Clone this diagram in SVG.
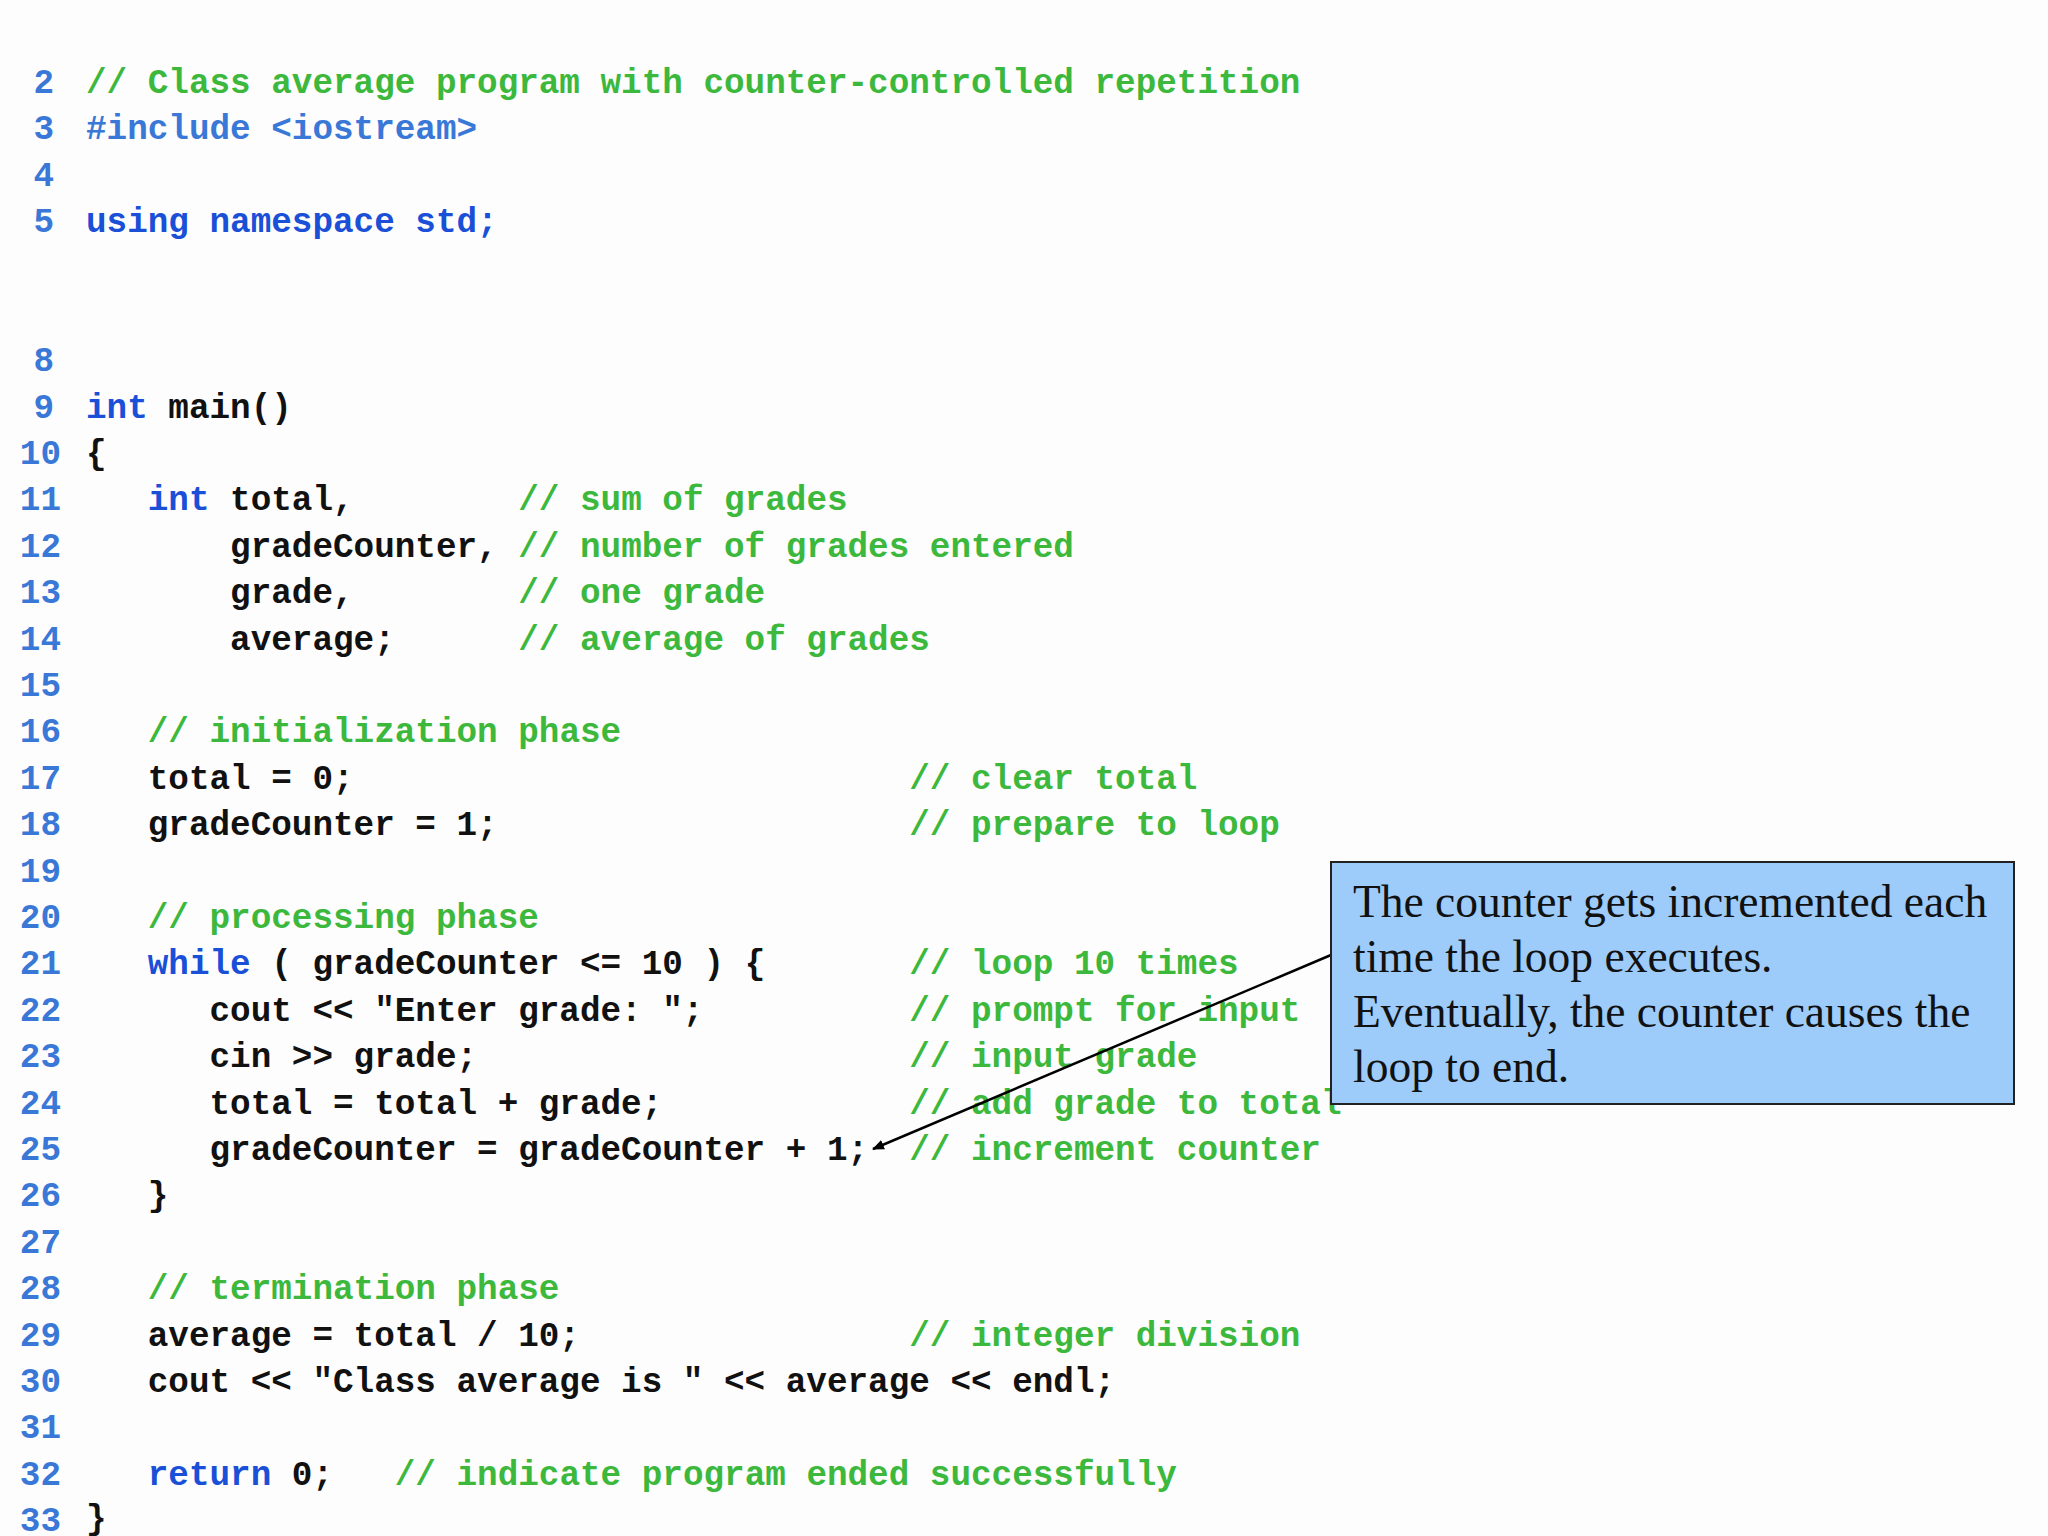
<svg xmlns="http://www.w3.org/2000/svg" width="2048" height="1536" viewBox="0 0 2048 1536">
<style>
.code{font-family:"Liberation Mono","Courier New",monospace;font-weight:bold;font-size:34.3px;fill:#111;white-space:pre}
.n{fill:#3a78d8;text-anchor:end}
.k{fill:#1a4fd8}
.c{fill:#3cb83c}
.p{fill:#3a78d8}
.t{font-family:"Liberation Serif","Times New Roman",serif;font-size:45.5px;fill:#111}
</style>
<defs><marker id="ah" markerWidth="12" markerHeight="10" refX="11" refY="5" orient="auto" markerUnits="userSpaceOnUse"><path d="M0,0 L12,5 L0,10 z" fill="#000"/></marker></defs>
<rect width="2048" height="1536" fill="#fdfdfd"/>
<g id="linenums">
<text class="code n" x="54" y="93">2</text>
<text class="code n" x="54" y="139">3</text>
<text class="code n" x="54" y="186">4</text>
<text class="code n" x="54" y="232">5</text>
<text class="code n" x="54" y="371">8</text>
<text class="code n" x="54" y="418">9</text>
<text class="code n" x="61" y="464">10</text>
<text class="code n" x="61" y="510">11</text>
<text class="code n" x="61" y="557">12</text>
<text class="code n" x="61" y="603">13</text>
<text class="code n" x="61" y="650">14</text>
<text class="code n" x="61" y="696">15</text>
<text class="code n" x="61" y="742">16</text>
<text class="code n" x="61" y="789">17</text>
<text class="code n" x="61" y="835">18</text>
<text class="code n" x="61" y="882">19</text>
<text class="code n" x="61" y="928">20</text>
<text class="code n" x="61" y="974">21</text>
<text class="code n" x="61" y="1021">22</text>
<text class="code n" x="61" y="1067">23</text>
<text class="code n" x="61" y="1114">24</text>
<text class="code n" x="61" y="1160">25</text>
<text class="code n" x="61" y="1206">26</text>
<text class="code n" x="61" y="1253">27</text>
<text class="code n" x="61" y="1299">28</text>
<text class="code n" x="61" y="1346">29</text>
<text class="code n" x="61" y="1392">30</text>
<text class="code n" x="61" y="1438">31</text>
<text class="code n" x="61" y="1485">32</text>
<text class="code n" x="61" y="1531">33</text>
</g>
<g id="code" xml:space="preserve">
<text class="code" x="86" y="93"><tspan class="c">// Class average program with counter-controlled repetition</tspan></text>
<text class="code" x="86" y="139"><tspan class="p">#include &lt;iostream&gt;</tspan></text>
<text class="code" x="86" y="232"><tspan class="k">using namespace std;</tspan></text>
<text class="code" x="86" y="418"><tspan class="k">int</tspan> main()</text>
<text class="code" x="86" y="464">{</text>
<text class="code" x="86" y="510">   <tspan class="k">int</tspan> total,        <tspan class="c">// sum of grades</tspan></text>
<text class="code" x="86" y="557">       gradeCounter, <tspan class="c">// number of grades entered</tspan></text>
<text class="code" x="86" y="603">       grade,        <tspan class="c">// one grade</tspan></text>
<text class="code" x="86" y="650">       average;      <tspan class="c">// average of grades</tspan></text>
<text class="code" x="86" y="742">   <tspan class="c">// initialization phase</tspan></text>
<text class="code" x="86" y="789">   total = 0;                           <tspan class="c">// clear total</tspan></text>
<text class="code" x="86" y="835">   gradeCounter = 1;                    <tspan class="c">// prepare to loop</tspan></text>
<text class="code" x="86" y="928">   <tspan class="c">// processing phase</tspan></text>
<text class="code" x="86" y="974">   <tspan class="k">while</tspan> ( gradeCounter &lt;= 10 ) {       <tspan class="c">// loop 10 times</tspan></text>
<text class="code" x="86" y="1021">      cout &lt;&lt; "Enter grade: ";          <tspan class="c">// prompt for input</tspan></text>
<text class="code" x="86" y="1067">      cin &gt;&gt; grade;                     <tspan class="c">// input grade</tspan></text>
<text class="code" x="86" y="1114">      total = total + grade;            <tspan class="c">// add grade to total</tspan></text>
<text class="code" x="86" y="1160">      gradeCounter = gradeCounter + 1;  <tspan class="c">// increment counter</tspan></text>
<text class="code" x="86" y="1206">   }</text>
<text class="code" x="86" y="1299">   <tspan class="c">// termination phase</tspan></text>
<text class="code" x="86" y="1346">   average = total / 10;                <tspan class="c">// integer division</tspan></text>
<text class="code" x="86" y="1392">   cout &lt;&lt; "Class average is " &lt;&lt; average &lt;&lt; endl;</text>
<text class="code" x="86" y="1485">   <tspan class="k">return</tspan> 0;   <tspan class="c">// indicate program ended successfully</tspan></text>
<text class="code" x="86" y="1529">}</text>
</g>
<g id="connectors">
<line x1="1331" y1="955" x2="873" y2="1149" stroke="#000" stroke-width="2.5" marker-end="url(#ah)"/>
</g>
<g id="callout">
<rect x="1331" y="862" width="683" height="242" fill="#9dcbfa" stroke="#222" stroke-width="2"/>
<text class="t" x="1353" y="917">The counter gets incremented each</text>
<text class="t" x="1353" y="972">time the loop executes.</text>
<text class="t" x="1353" y="1027">Eventually, the counter causes the</text>
<text class="t" x="1353" y="1082">loop to end.</text>
</g>
</svg>
